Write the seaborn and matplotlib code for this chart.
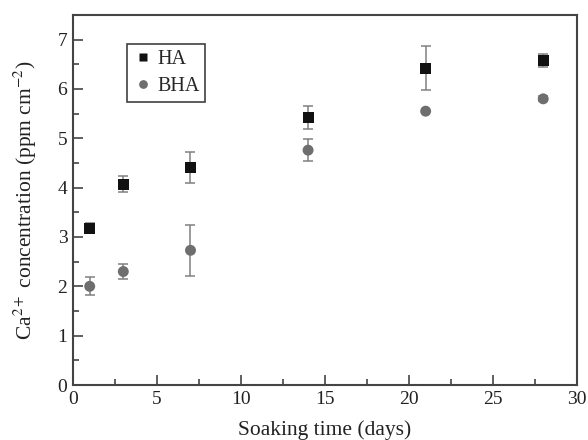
import matplotlib
matplotlib.use('Agg')
import matplotlib.pyplot as plt
from matplotlib.ticker import MultipleLocator
import pandas as pd
import seaborn as sns

# soaking times (days) and Ca2+ release
days = [1, 3, 7, 14, 21, 28]
ha_mean = [3.18, 4.07, 4.41, 5.42, 6.42, 6.57]
ha_err = [0.10, 0.16, 0.31, 0.23, 0.45, 0.13]
bha_mean = [2.00, 2.30, 2.73, 4.76, 5.55, 5.80]
bha_err = [0.18, 0.16, 0.52, 0.23, 0.0, 0.05]

sns.set_style('ticks')
plt.rcParams['font.family'] = ['Liberation Serif', 'DejaVu Serif']
plt.rcParams['mathtext.fontset'] = 'stix'

df = pd.DataFrame({
    'days': days * 2,
    'conc': ha_mean + bha_mean,
    'err': ha_err + bha_err,
    'sample': ['HA'] * len(days) + ['BHA'] * len(days),
})

fig = plt.figure(figsize=(5.88, 4.40), dpi=100)
ax = fig.add_axes([0.124, 0.125, 0.857, 0.841])

# error bars first so markers sit on top
for name in ['HA', 'BHA']:
    sub = df[df['sample'] == name]
    ax.errorbar(sub['days'], sub['conc'], yerr=sub['err'], fmt='none',
                ecolor='#808080', elinewidth=1.1, capsize=3.5, capthick=1.1, zorder=2)

sns.scatterplot(data=df, x='days', y='conc', hue='sample', style='sample',
                markers={'HA': 's', 'BHA': 'o'},
                palette={'HA': '#111111', 'BHA': '#6e6e6e'},
                s=62, edgecolor='none', ax=ax, zorder=3)

ax.set_xlim(0, 30)
ax.set_ylim(0, 7.5)
ax.xaxis.set_major_locator(MultipleLocator(5))
ax.xaxis.set_minor_locator(MultipleLocator(2.5))
ax.yaxis.set_major_locator(MultipleLocator(1))
ax.yaxis.set_minor_locator(MultipleLocator(0.5))
ax.tick_params(which='both', direction='in', colors='#444444', labelcolor='#222222',
               labelsize=14, width=1.2)
ax.tick_params(which='major', length=7, pad=4)
ax.tick_params(which='minor', length=4)
for sp in ax.spines.values():
    sp.set_color('#444444')
    sp.set_linewidth(1.5)

ax.set_xlabel('Soaking time (days)', fontsize=15.5, color='#222222', labelpad=9)
ax.set_ylabel('Ca$^{2+}$ concentration (ppm cm$^{-2}$)', fontsize=15.5,
              color='#222222', labelpad=13)

leg = ax.legend(loc='upper left', bbox_to_anchor=(0.107, 0.922), fontsize=14.5,
                frameon=True, fancybox=False, handletextpad=0.2,
                handlelength=1.0, borderpad=0.3, labelspacing=0.4, markerscale=0.8,
                borderaxespad=0)
leg.get_frame().set_edgecolor('#111111')
leg.get_frame().set_linewidth(1.2)

fig.savefig('out.png', dpi=100)
